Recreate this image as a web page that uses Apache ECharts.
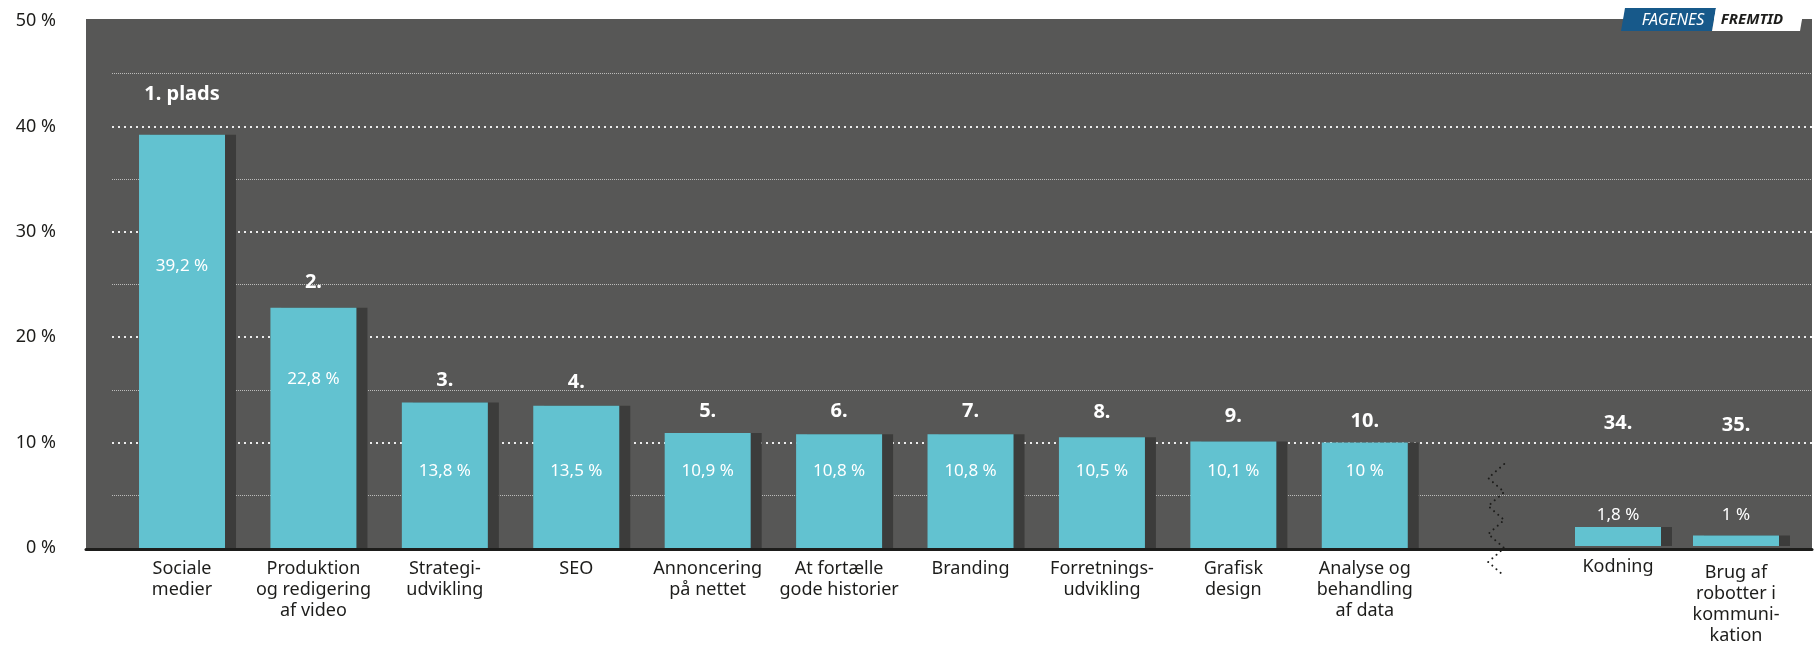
<!DOCTYPE html>
<html>
<head>
<meta charset="utf-8">
<script src="https://cdn.jsdelivr.net/npm/echarts@6/dist/echarts.min.js"></script>
<style>
  html, body { margin: 0; padding: 0; background: #ffffff; }
  #chart { width: 1814px; height: 646px; }
</style>
</head>
<body>
<div id="chart"></div>
<script>
// Skills ranked by share of respondents (%)
const skills = [
  'Sociale\nmedier',
  'Produktion\nog redigering\naf video',
  'Strategi-\nudvikling',
  'SEO',
  'Annoncering\npå nettet',
  'At fortælle\ngode historier',
  'Branding',
  'Forretnings-\nudvikling',
  'Grafisk\ndesign',
  'Analyse og\nbehandling\naf data',
  'Kodning',
  'Brug af\nrobotter i\nkommuni-\nkation'
];
const shares = [39.2, 22.8, 13.8, 13.5, 10.9, 10.8, 10.8, 10.5, 10.1, 10, 1.8, 1];
const ranks = ['1. plads', '2.', '3.', '4.', '5.', '6.', '7.', '8.', '9.', '10.', '34.', '35.'];
const yTicks = [0, 10, 20, 30, 40, 50];

// Label styling: level (axis units) where each value label is centred,
// and how far (px) each rank label floats above its bar
const valueLabelLevel = [26.7, 16.0, 7.3, 7.3, 7.3, 7.3, 7.3, 7.3, 7.3, 7.3, 2.9, 2.9];
const rankLift = [41, 25, 22, 23, 22, 23, 23, 25, 25, 21, 104, 110];

const TOP_COUNT = 10;
const FONT = "'Noto Sans', 'Open Sans', sans-serif";
const PLOT_TOP = 21, PLOT_BOTTOM = 98, H = 646;
const yMin = yTicks[0], yMax = yTicks[yTicks.length - 1], yStep = yTicks[1] - yTicks[0];
const pxPerUnit = (H - PLOT_TOP - PLOT_BOTTOM) / (yMax - yMin);

const BAR = '#62c2d0', BAR_SIDE = '#3c3c3b', PANEL = '#575756', INK = '#1d1d1b';

const fmtPct = v => String(v).replace('.', ',') + ' %';

function valueData(from, to) {
  return shares.slice(from, to).map((v, i) => ({
    value: v,
    label: { position: ['50%', (v - valueLabelLevel[from + i]) * pxPerUnit] }
  }));
}
function rankData(from, to) {
  return shares.slice(from, to).map((v, i) => ({
    value: v,
    label: { position: ['50%', -rankLift[from + i]], formatter: ranks[from + i] }
  }));
}

// the head block gets an empty slot at the end for the break marker
const headCats = skills.slice(0, TOP_COUNT).concat(['']);
const tailCats = skills.slice(TOP_COUNT).map((s, i, arr) =>
  i === arr.length - 1 ? { value: s, textStyle: { padding: [6, 0, 0, 0] } } : s);

const valueLabel = {
  show: true, color: '#ffffff', fontFamily: FONT, fontSize: 17,
  align: 'center', verticalAlign: 'middle', formatter: p => fmtPct(p.value)
};
const rankLabel = {
  show: true, color: '#ffffff', fontFamily: FONT, fontSize: 20, fontWeight: 'bold',
  align: 'center', verticalAlign: 'middle'
};
const barStyle = { color: BAR, shadowColor: BAR_SIDE, shadowOffsetX: 11, shadowBlur: 0 };

function barPair(axisIdx, from, to, extra) {
  const vals = valueData(from, to);
  const rks = rankData(from, to);
  if (extra) { vals.push('-'); rks.push('-'); }
  return [
    { type: 'bar', xAxisIndex: axisIdx, yAxisIndex: axisIdx, barWidth: 86, barGap: '-100%',
      itemStyle: barStyle, label: valueLabel, data: vals, silent: true, z: 3 },
    { type: 'bar', xAxisIndex: axisIdx, yAxisIndex: axisIdx, barWidth: 86, barGap: '-100%',
      itemStyle: { color: 'rgba(0,0,0,0)' }, label: rankLabel, data: rks, silent: true, z: 4 }
  ];
}

const catAxisLabel = {
  interval: 0, color: INK, fontFamily: FONT, fontSize: 18, lineHeight: 21, margin: 10
};
const hiddenValueAxis = gi => ({ type: 'value', gridIndex: gi, min: yMin, max: yMax, show: false });

const chart = echarts.init(document.getElementById('chart'), null, { renderer: 'canvas' });

chart.setOption({
  animation: false,
  backgroundColor: '#ffffff',
  grid: [
    { left: 86, right: 2, top: 19, bottom: 97, show: true, backgroundColor: PANEL, borderWidth: 0 },
    { left: 112, right: 2, top: PLOT_TOP, bottom: PLOT_BOTTOM },
    { left: 116.3, width: 1445.6, top: PLOT_TOP, bottom: PLOT_BOTTOM },
    { left: 1559, width: 236, top: PLOT_TOP, bottom: PLOT_BOTTOM }
  ],
  xAxis: [
    { type: 'category', gridIndex: 0, data: [''],
      axisLine: { show: true, lineStyle: { color: INK, width: 3 } },
      axisTick: { show: false }, axisLabel: { show: false }, z: 5 },
    { type: 'category', gridIndex: 1, data: [''], show: false },
    { type: 'category', gridIndex: 2, data: headCats,
      axisLine: { show: false }, axisTick: { show: false }, axisLabel: catAxisLabel },
    { type: 'category', gridIndex: 3, data: tailCats,
      axisLine: { show: false }, axisTick: { show: false }, axisLabel: catAxisLabel }
  ],
  yAxis: [
    hiddenValueAxis(0),
    { type: 'value', gridIndex: 1, min: yMin, max: yMax, interval: yStep,
      axisLine: { show: false }, axisTick: { show: false },
      axisLabel: { formatter: '{value} %', color: INK, fontFamily: FONT, fontSize: 18, margin: 56 },
      splitLine: { show: true, showMinLine: false, showMaxLine: false,
        lineStyle: { color: '#eeeeee', width: 2, type: [2, 4] } },
      minorTick: { show: false, splitNumber: 2 },
      minorSplitLine: { show: true, lineStyle: { color: 'rgba(255,255,255,0.6)', width: 1, type: [1, 1] } }
    },
    hiddenValueAxis(2),
    hiddenValueAxis(3)
  ],
  series: [
    ...barPair(2, 0, TOP_COUNT, true),
    ...barPair(3, TOP_COUNT, shares.length, false)
  ]
});

// break marker in the empty slot plus the masthead tag
const gapX = chart.convertToPixel({ xAxisIndex: 2 }, TOP_COUNT);
const baseY = chart.convertToPixel({ yAxisIndex: 2 }, 0);
const zig = [];
for (let k = 0; k <= 8; k++) zig.push([gapX + (k % 2 === 0 ? 8 : -8), baseY - 84 + 14 * k]);

chart.setOption({
  graphic: [
    { type: 'polyline', silent: true, z: 20, shape: { points: zig },
      style: { stroke: INK, lineWidth: 2, lineDash: [0.01, 5.5], lineCap: 'round', fill: null } },
    { type: 'polygon', silent: true, z: 20,
      shape: { points: [[1625, 8], [1716, 8], [1712, 31], [1621, 31]] },
      style: { fill: '#17598a' } },
    { type: 'polygon', silent: true, z: 20,
      shape: { points: [[1716, 8], [1804, 8], [1800, 31], [1712, 31]] },
      style: { fill: '#ffffff' } },
    { type: 'text', silent: true, z: 21, x: 1673, y: 20,
      style: { text: 'FAGENES', fill: '#ffffff', font: "italic 16px 'Noto Sans', sans-serif",
        align: 'center', verticalAlign: 'middle' } },
    { type: 'text', silent: true, z: 21, x: 1752, y: 20,
      style: { text: 'FREMTID', fill: '#1d1d1b', font: "italic bold 15px 'Noto Sans', sans-serif",
        align: 'center', verticalAlign: 'middle' } }
  ]
});
</script>
</body>
</html>
